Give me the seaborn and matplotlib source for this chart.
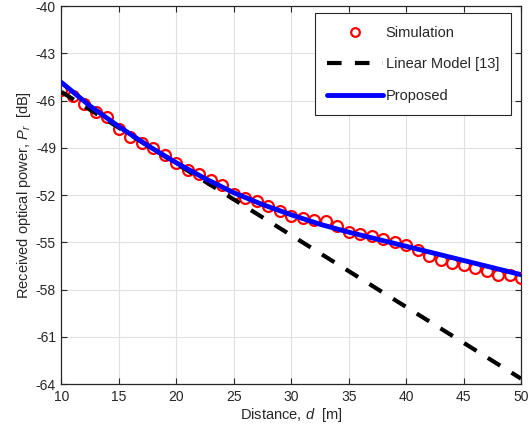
import matplotlib
matplotlib.use("Agg")
import matplotlib.pyplot as plt
import seaborn as sns
import pandas as pd

# distance [m] and received optical power [dB]
sim_d = list(range(10, 51))
sim_pr = [-45.32, -45.68, -46.21, -46.70, -47.06, -47.80, -48.30, -48.66, -48.98, -49.47,
          -49.94, -50.42, -50.64, -51.06, -51.36, -51.91, -52.17, -52.38, -52.68, -53.02,
          -53.34, -53.44, -53.55, -53.66, -53.98, -54.34, -54.50, -54.60, -54.77, -54.98,
          -55.19, -55.47, -55.89, -56.10, -56.32, -56.46, -56.64, -56.80, -57.06, -57.10,
          -57.27]

lin_d = [10, 50]
lin_pr = [-45.45, -63.65]

prop_d = [10, 12.5, 15, 17.5, 20, 22.5, 25, 27.5, 30, 32.5, 35, 37.5, 40, 42.5, 45, 47.5, 50]
prop_pr = [-44.85, -46.35, -47.65, -48.85, -49.95, -50.95, -51.85, -52.60, -53.25,
           -53.85, -54.35, -54.80, -55.25, -55.70, -56.15, -56.60, -57.05]

sim_df = pd.DataFrame({"d": sim_d, "pr": sim_pr})
lin_df = pd.DataFrame({"d": lin_d, "pr": lin_pr})
prop_df = pd.DataFrame({"d": prop_d, "pr": prop_pr})

sns.set_style("whitegrid")
plt.rcParams["font.family"] = ["Liberation Sans", "DejaVu Sans"]
plt.rcParams["mathtext.fontset"] = "custom"
plt.rcParams["mathtext.rm"] = "Liberation Sans"
plt.rcParams["mathtext.it"] = "Liberation Sans:italic"
plt.rcParams["axes.unicode_minus"] = False

fig = plt.figure(figsize=(5.30, 4.36), dpi=100)
ax = fig.add_axes([0.116, 0.119, 0.867, 0.867])

sns.lineplot(data=sim_df, x="d", y="pr", ax=ax, linestyle="none", marker="o",
             markersize=7.8, markerfacecolor="none", markeredgecolor="red",
             markeredgewidth=1.6, label="Simulation", zorder=3)
sns.lineplot(data=lin_df, x="d", y="pr", ax=ax, color="black", linewidth=3,
             dashes=False, label="Linear Model [13]", zorder=4)
ax.lines[-1].set_dashes([3.5, 3.2])
sns.lineplot(data=prop_df, x="d", y="pr", ax=ax, color="blue", linewidth=3.5,
             label="Proposed", zorder=5)

ax.set_xlim(10, 50)
ax.set_ylim(-64, -40)
ax.set_xticks(range(10, 51, 5))
ax.set_yticks(range(-64, -39, 3))
ax.set_xlabel(r"Distance, $d$  [m]", fontsize=10.5, color="#262626", labelpad=2)
ax.set_ylabel(r"Received optical power, $P_r$  [dB]", fontsize=10.5, color="#262626", labelpad=2)
ax.tick_params(axis="both", direction="in", length=4, width=0.8, labelsize=10,
               colors="#262626", top=True, right=True, bottom=True, left=True, pad=4)
ax.grid(True, color="#e0e0e0", linewidth=0.8)
for sp in ax.spines.values():
    sp.set_visible(True)
    sp.set_color("#262626")
    sp.set_linewidth(0.9)

leg = ax.legend(loc="upper right", bbox_to_anchor=(0.995, 1.0), fontsize=10.5,
                handlelength=3.8, handletextpad=0.2, labelspacing=1.2,
                borderpad=0.85, fancybox=False, framealpha=1, edgecolor="#262626",
                markerscale=0.8)
leg.get_frame().set_linewidth(0.8)

fig.savefig("out.png", dpi=100)
